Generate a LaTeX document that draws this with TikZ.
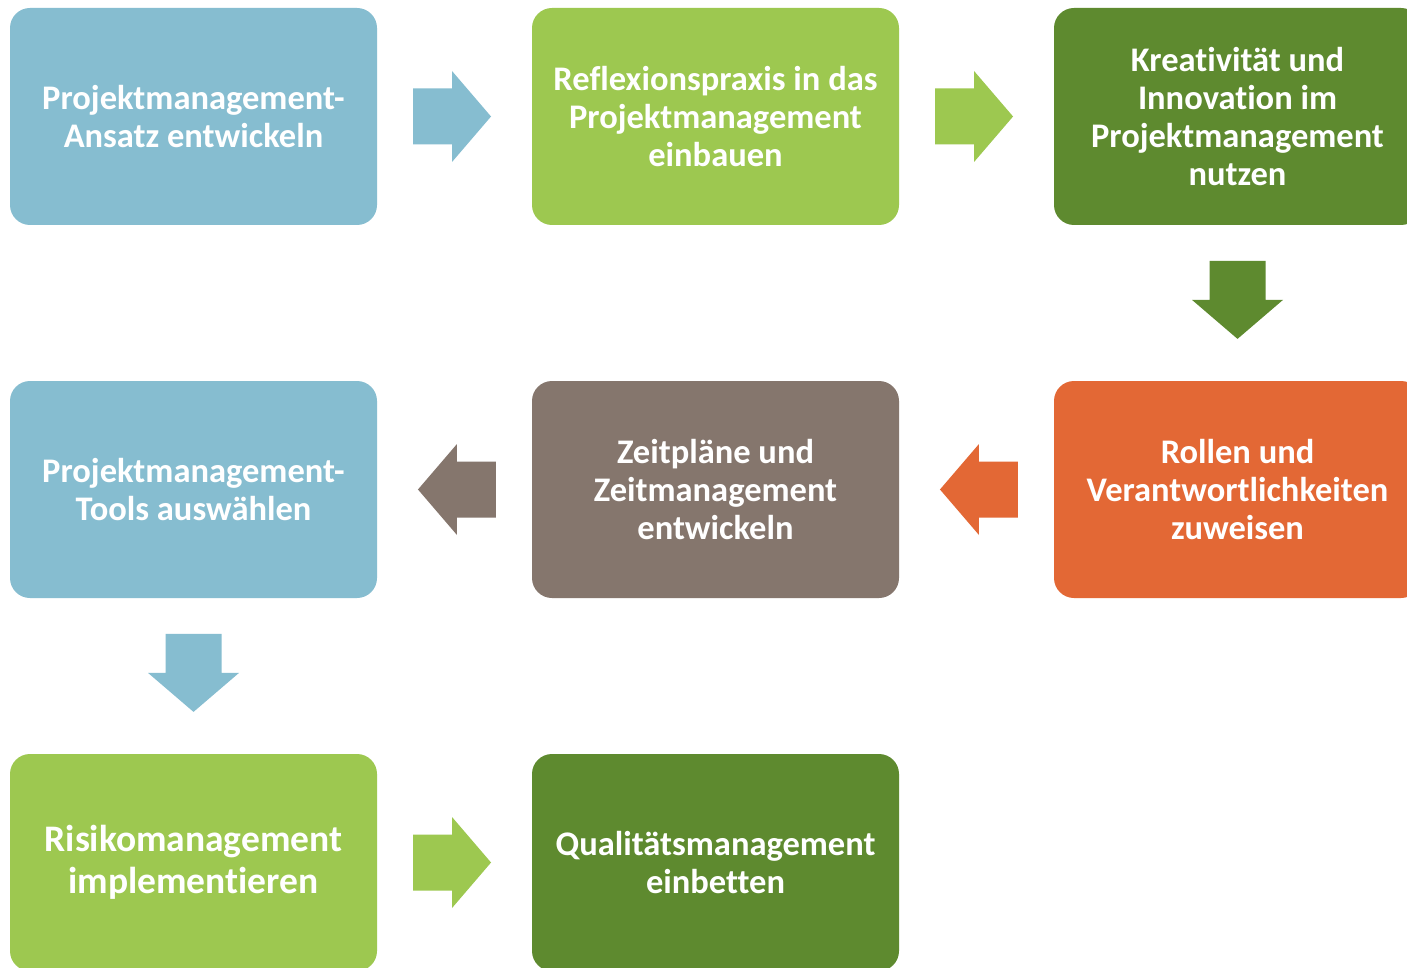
\documentclass[tikz,border=0pt]{standalone}
\usepackage{fontspec}
\setmainfont{Carlito}[Ligatures={NoCommon,NoRequired,NoContextual}]
\usetikzlibrary{calc}
\definecolor{cblue}{HTML}{86BDD0}
\definecolor{clgreen}{HTML}{9DC850}
\definecolor{cdgreen}{HTML}{5E8A2F}
\definecolor{corange}{HTML}{E36835}
\definecolor{cbrown}{HTML}{85766D}
\tikzset{
  box/.style={rounded corners=20pt, minimum width=367pt, minimum height=217pt,
    inner sep=0pt, text width=360pt, align=flush center, text=white,
    font=\bfseries\fontsize{34.5}{38}\selectfont},
  bigtext/.style={font=\bfseries\fontsize{37.5}{42}\selectfont}
}
\newcommand{\blockarrow}[3]{%
  \fill[#3, shift={(#1)}, rotate=#2]
    (-39,-28) -- (0,-28) -- (0,-45.5) -- (39,0) -- (0,45.5) -- (0,28) -- (-39,28) -- cycle;}
\begin{document}
\begin{tikzpicture}[x=1pt,y=-1pt]
\useasboundingbox (0,0) rectangle (1407,968);
\fill[white] (0,0) rectangle (1407,968);
\node[box, fill=cblue]   (b1) at (193.5,116.5) {Projektmanagement-\\Ansatz entwickeln};
\node[box, fill=clgreen] (b2) at (715.5,116.5) {Reflexionspraxis in das\\Projektmanagement\\einbauen};
\node[box, fill=cdgreen] (b3) at (1237.5,116.5) {Kreativität und\\Innovation im\\Projektmanagement\\nutzen};
\node[box, fill=corange] (b4) at (1237.5,489.5) {Rollen und\\Verantwortlichkeiten\\zuweisen};
\node[box, fill=cbrown]  (b5) at (715.5,489.5) {Zeitpläne und\\Zeitmanagement\\entwickeln};
\node[box, fill=cblue]   (b6) at (193.5,489.5) {Projektmanagement-\\Tools auswählen};
\node[box, bigtext, fill=clgreen] (b7) at (193.5,862.5) {Risikomanagement\\implementieren};
\node[box, fill=cdgreen] (b8) at (715.5,862.5) {Qualitätsmanagement\\einbetten};
% block arrow positions between boxes
\coordinate (a1) at ($(b1.east)!0.484!(b2.west)$);
\coordinate (a2) at ($(b2.east)!0.484!(b3.west)$);
\coordinate (a3) at ($(b3.south)!0.48!(b4.north)$);
\coordinate (a4) at ($(b4.west)!0.484!(b5.east)$);
\coordinate (a5) at ($(b5.west)!0.484!(b6.east)$);
\coordinate (a6) at ($(b6.south)!0.48!(b7.north)$);
\coordinate (a7) at ($(b7.east)!0.484!(b8.west)$);
\blockarrow{a1}{0}{cblue}
\blockarrow{a2}{0}{clgreen}
\blockarrow{a3}{-90}{cdgreen}
\blockarrow{a4}{180}{corange}
\blockarrow{a5}{180}{cbrown}
\blockarrow{a6}{-90}{cblue}
\blockarrow{a7}{0}{clgreen}
\end{tikzpicture}
\end{document}
